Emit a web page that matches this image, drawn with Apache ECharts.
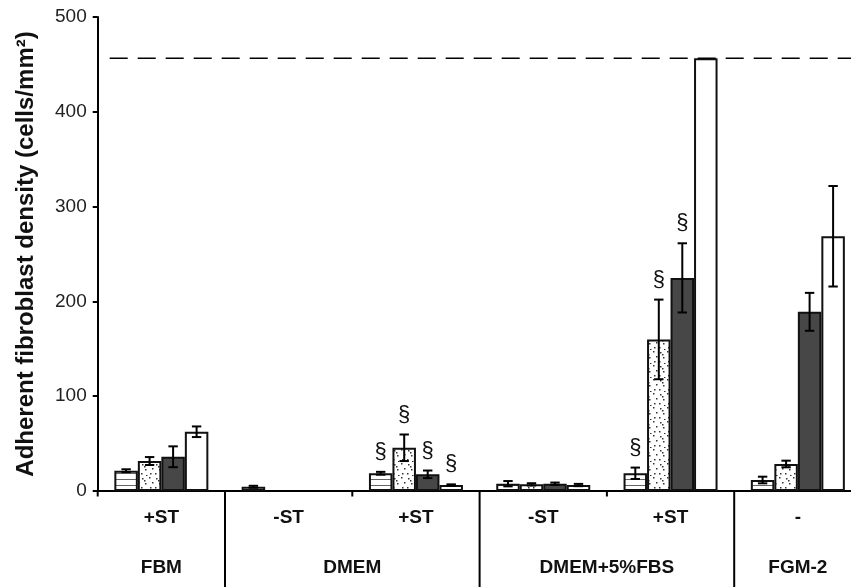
<!DOCTYPE html>
<html>
<head>
<meta charset="utf-8">
<script src="https://cdn.jsdelivr.net/npm/echarts@6/dist/echarts.min.js"></script>
<style>html,body{margin:0;padding:0;background:#fff;}#chart{width:851px;height:587px;}</style>
</head>
<body>
<div id="chart"></div>
<script>
// ---- data ----
var categories = ['+ST', '-ST', '+ST', '-ST', '+ST', '-'];
var groupNames = ['FBM', 'DMEM', 'DMEM+5%FBS', 'FGM-2'];
var groupSpans = [[0, 0], [1, 2], [3, 4], [5, 5]];
var yTicks = [0, 100, 200, 300, 400, 500];
var refLineValue = 456.5;

var striped = [21.4, 4.5, 18.7, 7.7, 18.7, 11.6];
var stripedErr = [1.5, 1, 1.5, 2.8, 6, 3.5];
var dotted = [31.6, null, 45.6, 7, 159.9, 28.5];
var dottedErr = [4.2, null, 14, 1.2, 42, 3.5];
var dark = [36.1, null, 17.6, 7.7, 224.8, 189];
var darkErr = [11, null, 4, 1.2, 36.5, 20];
var white = [62.5, null, 6.3, 6.3, 456.5, 268.7];
var whiteErr = [5.6, null, 0.7, 1.2, null, 53];
var sigStriped = [0, 0, 1, 0, 1, 0];
var sigDotted = [0, 0, 1, 0, 1, 0];
var sigDark = [0, 0, 1, 0, 1, 0];
var sigWhite = [0, 0, 1, 0, 0, 0];

// ---- styles ----
var BW = 0.1846; // bar width as fraction of band
function makeStripe() {
  var c = document.createElement('canvas'); c.width = 8; c.height = 6;
  var g = c.getContext('2d');
  g.fillStyle = '#fff'; g.fillRect(0, 0, 8, 6);
  g.fillStyle = '#666'; g.fillRect(0, 5, 8, 1);
  return c;
}
function makeDots() {
  var c = document.createElement('canvas'); c.width = 14; c.height = 14;
  var g = c.getContext('2d');
  g.fillStyle = '#fff'; g.fillRect(0, 0, 14, 14);
  g.fillStyle = '#333';
  [[2,2],[9,1],[12,6],[5,7],[10,11],[1,11],[6,13],[4,4]].forEach(function (p) { g.fillRect(p[0], p[1], 1.5, 1.5); });
  return c;
}
var fills = [
  { image: makeStripe(), repeat: 'repeat' },
  { image: makeDots(), repeat: 'repeat' },
  '#474747',
  '#ffffff'
];

var values = [striped, dotted, dark, white];
var errs = [stripedErr, dottedErr, darkErr, whiteErr];
var sigs = [sigStriped, sigDotted, sigDark, sigWhite];

var series = [];
values.forEach(function (vals, k) {
  series.push({
    type: 'bar', data: vals, barWidth: (BW * 100) + '%', barGap: '0%',
    itemStyle: { color: fills[k], borderColor: '#111', borderWidth: 2 },
    z: 2, silent: true
  });
});
values.forEach(function (vals, k) {
  var data = [];
  vals.forEach(function (v, i) {
    if (v != null && errs[k][i] != null) data.push([i, v - errs[k][i], v + errs[k][i], sigs[k][i]]);
    else if (v != null && sigs[k][i]) data.push([i, v, v, sigs[k][i]]);
  });
  series.push({
    type: 'custom', data: data, z: 5, silent: true, clip: false,
    encode: { x: 0, y: [1, 2] },
    renderItem: function (params, api) {
      var cat = api.value(0), lo = api.value(1), hi = api.value(2), sig = api.value(3);
      var band = api.size([1, 0])[0];
      var ctr = api.coord([cat, hi]);
      var x = ctr[0] + (k - 1.5) * band * BW;
      var yHi = ctr[1], yLo = api.coord([cat, lo])[1];
      var children = [];
      if (hi !== lo) {
        var cap = 4.7;
        var st = { stroke: '#000', lineWidth: 2 };
        children.push({ type: 'line', shape: { x1: x, y1: yHi, x2: x, y2: yLo }, style: st });
        children.push({ type: 'line', shape: { x1: x - cap, y1: yHi, x2: x + cap, y2: yHi }, style: st });
        children.push({ type: 'line', shape: { x1: x - cap, y1: yLo, x2: x + cap, y2: yLo }, style: st });
      }
      if (sig) {
        children.push({ type: 'text', style: { text: '§', x: x, y: yHi - 9, align: 'center', verticalAlign: 'bottom',
          font: '22px "Liberation Sans", Arial, sans-serif', fill: '#111' } });
      }
      return { type: 'group', children: children };
    }
  });
});

// reference dashed line
series.push({
  type: 'custom', data: [[0, refLineValue]], z: 4, silent: true, clip: false,
  encode: { x: 0, y: 1 },
  renderItem: function (params, api) {
    var p = api.coord([0, api.value(1)]);
    var band = api.size([1, 0])[0];
    var x0 = p[0] - band / 2;
    return { type: 'line', shape: { x1: x0 + 12, y1: p[1], x2: api.getWidth(), y2: p[1] },
      style: { stroke: '#000', lineWidth: 1.5, lineDash: [18, 10] } };
  }
});

// separators: long at group boundaries, short within groups and at left edge
var sepData = [[-0.5, 0]];
groupSpans.forEach(function (s, gi) {
  for (var c = s[0]; c < s[1]; c++) sepData.push([c + 0.5, 0]);
  if (gi < groupSpans.length - 1) sepData.push([s[1] + 0.5, 1]);
});
series.push({
  type: 'custom', data: sepData.map(function (d) { return [0, 0, d[0], d[1]]; }), z: 6, silent: true, clip: false,
  encode: { x: 0, y: 1 },
  renderItem: function (params, api) {
    var pos = api.value(2), isLong = api.value(3);
    var band = api.size([1, 0])[0];
    var p = api.coord([0, 0]);
    var x = p[0] + pos * band;
    var y2 = isLong ? api.getHeight() : p[1] + 5.5;
    return { type: 'line', shape: { x1: x, y1: p[1], x2: x, y2: y2 }, style: { stroke: '#000', lineWidth: 2 } };
  }
});

// group labels
series.push({
  type: 'custom', data: groupSpans.map(function (s, i) { return [s[0], 0, s[1], i]; }), z: 6, silent: true, clip: false,
  encode: { x: 0, y: 1 },
  renderItem: function (params, api) {
    var a = api.coord([api.value(0), 0]), b = api.coord([api.value(2), 0]);
    var name = groupNames[api.value(3)];
    return { type: 'text', style: { text: name, x: (a[0] + b[0]) / 2, y: a[1] + 77, align: 'center', verticalAlign: 'middle',
      font: 'bold 19px "Liberation Sans", Arial, sans-serif', fill: '#111' } };
  }
});

var chart = echarts.init(document.getElementById('chart'), null, { renderer: 'canvas' });
chart.setOption({
  animation: false,
  backgroundColor: '#fff',
  grid: { left: 97.7, width: 763.8, top: 17, bottom: 96, containLabel: false, outerBoundsMode: 'none' },
  xAxis: {
    type: 'category', data: categories,
    axisLine: { show: true, lineStyle: { color: '#000', width: 2 } },
    axisTick: { show: false },
    axisLabel: { margin: 17, color: '#111', fontSize: 19, fontWeight: 'bold', fontFamily: '"Liberation Sans", Arial, sans-serif' },
    splitLine: { show: false }
  },
  yAxis: {
    type: 'value', min: yTicks[0], max: yTicks[yTicks.length - 1], interval: yTicks[1] - yTicks[0],
    name: 'Adherent fibroblast density (cells/mm²)', nameLocation: 'middle', nameGap: 59,
    nameTextStyle: { fontSize: 24, fontWeight: 'bold', color: '#111', fontFamily: '"Liberation Sans", Arial, sans-serif' },
    axisLine: { show: true, lineStyle: { color: '#000', width: 2 } },
    axisTick: { show: true, length: 5, lineStyle: { color: '#000', width: 2 } },
    axisLabel: { margin: 11, color: '#222', fontSize: 19, fontFamily: '"Liberation Sans", Arial, sans-serif' },
    splitLine: { show: false }
  },
  series: series
});
</script>
</body>
</html>
